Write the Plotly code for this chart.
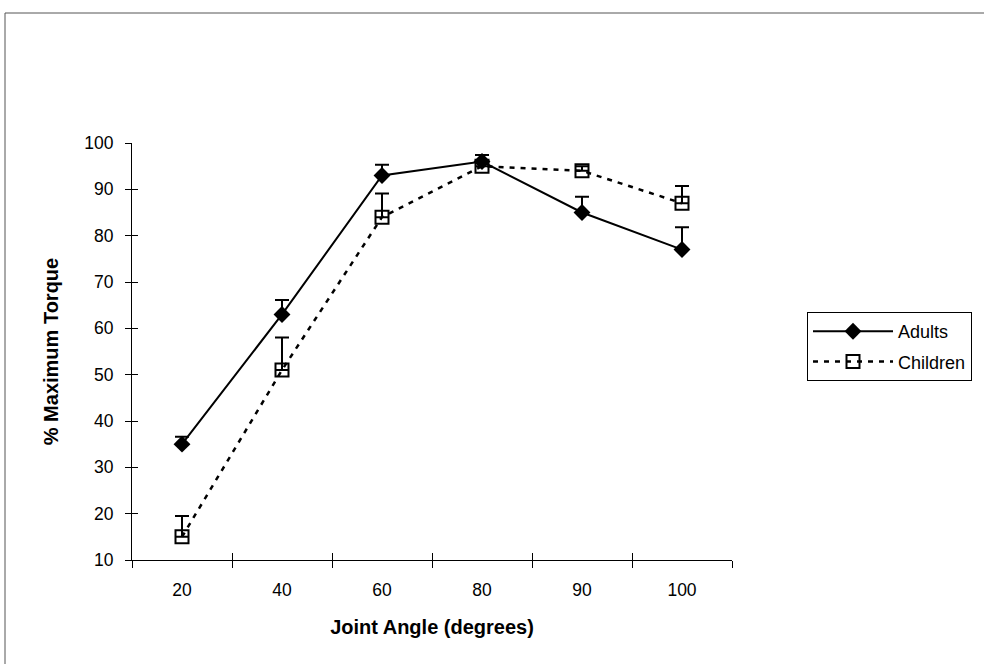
import plotly.graph_objects as go

angles = ["20", "40", "60", "80", "90", "100"]
adults = [35, 63, 93, 96, 85, 77]
adults_err = [1.6, 3.1, 2.3, 1.4, 3.4, 4.8]
children = [15, 51, 84, 95, 94, 87]
children_err = [4.5, 7.0, 5.1, 1.0, 1.0, 3.7]

FONT = "Liberation Sans, Arial, Helvetica, sans-serif"

W, H = 984, 664
L, R, T, B = 132, 252, 143, 104
pw, ph = W - L - R, H - T - B

def px_x(px):
    return (px - L) / pw

def px_y(py):
    return (H - B - py) / ph

fig = go.Figure()

fig.add_trace(go.Scatter(
    x=angles, y=adults, name="Adults", mode="lines+markers", legendgroup="a",
    line=dict(color="black", width=2),
    marker=dict(symbol="diamond", size=13, color="black"),
    error_y=dict(type="data", symmetric=False, array=adults_err,
                 arrayminus=[0] * len(adults), color="black", thickness=2, width=7),
))
fig.add_trace(go.Scatter(
    x=angles, y=children, name="Children", mode="lines+markers", legendgroup="c",
    line=dict(color="black", width=2.5, dash="5px,6px"),
    marker=dict(symbol="square-open", size=13, color="black", line=dict(width=2)),
    error_y=dict(type="data", symmetric=False, array=children_err,
                 arrayminus=[0] * len(children), color="black", thickness=2, width=7),
))
# empty helper trace so the overlay axes (inner half of the crossing ticks) are drawn
fig.add_trace(go.Scatter(x=[], y=[], xaxis="x2", yaxis="y2", showlegend=False,
                         hoverinfo="skip"))

n = len(angles)
fig.update_layout(
    width=W, height=H,
    margin=dict(l=L, r=R, t=T, b=B, autoexpand=False),
    paper_bgcolor="white", plot_bgcolor="white",
    font=dict(family=FONT, size=17, color="black"),
    showlegend=True,
    legend=dict(
        x=px_x(807), y=px_y(312), xanchor="left", yanchor="top",
        bordercolor="black", borderwidth=1, bgcolor="white",
        font=dict(family=FONT, size=18, color="black"),
        itemwidth=80, tracegroupgap=4, traceorder="grouped",
    ),
    xaxis=dict(
        type="category", range=[-0.5, n - 0.5], tickson="boundaries",
        ticks="outside", ticklen=7, tickwidth=1, tickcolor="black",
        showline=True, linecolor="black", linewidth=1,
        showgrid=False, zeroline=False, ticklabelstandoff=14,
        tickfont=dict(family=FONT, size=17.5, color="black"),
        title=dict(text="<b>Joint Angle (degrees)</b>", standoff=20,
                   font=dict(family=FONT, size=20, color="black")),
    ),
    yaxis=dict(
        range=[10, 100], dtick=10, tick0=10,
        ticks="outside", ticklen=6, tickwidth=1, tickcolor="black",
        showline=True, linecolor="black", linewidth=1,
        showgrid=False, zeroline=False, ticklabelstandoff=8,
        tickfont=dict(family=FONT, size=17.5, color="black"),
        title=dict(text="<b>% Maximum Torque</b>", standoff=20,
                   font=dict(family=FONT, size=20, color="black")),
    ),
    xaxis2=dict(
        overlaying="x", anchor="y2", range=[-0.5, n - 0.5],
        tickvals=[i - 0.5 for i in range(n + 1)],
        ticks="inside", ticklen=7, tickwidth=1, tickcolor="black",
        showticklabels=False, showline=False, showgrid=False, zeroline=False,
    ),
    yaxis2=dict(
        overlaying="y", anchor="x2", range=[10, 100], dtick=10, tick0=10,
        ticks="inside", ticklen=6, tickwidth=1, tickcolor="black",
        showticklabels=False, showline=False, showgrid=False, zeroline=False,
    ),
    shapes=[dict(
        type="rect", xref="paper", yref="paper",
        x0=px_x(5), x1=px_x(995), y0=px_y(675), y1=px_y(13),
        line=dict(color="#555555", width=1), fillcolor="rgba(0,0,0,0)",
        layer="below",
    )],
)

fig.write_html("out.html")
